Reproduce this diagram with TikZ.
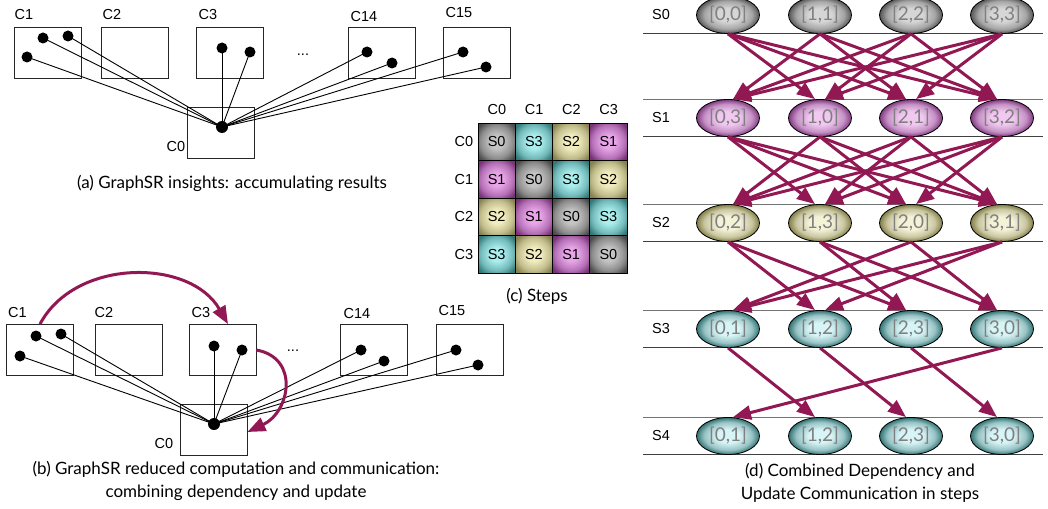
\documentclass[tikz,border=0pt]{standalone}
\usepackage{fontspec}
\setmainfont{Liberation Sans}
\newfontfamily\capfont{Lato}
\usetikzlibrary{arrows.meta,shapes.geometric}
\definecolor{arrowc}{RGB}{145,24,82}
\definecolor{ein0}{RGB}{214,214,214}\definecolor{eout0}{RGB}{85,85,85}
\definecolor{ein1}{RGB}{240,200,240}\definecolor{eout1}{RGB}{128,58,128}
\definecolor{ein2}{RGB}{244,242,215}\definecolor{eout2}{RGB}{130,126,72}
\definecolor{ein3}{RGB}{215,244,246}\definecolor{eout3}{RGB}{50,115,115}
\definecolor{gin0}{RGB}{196,196,196}\definecolor{gout0}{RGB}{75,75,75}
\definecolor{gin1}{RGB}{232,165,232}\definecolor{gout1}{RGB}{120,50,120}
\definecolor{gin2}{RGB}{242,237,190}\definecolor{gout2}{RGB}{135,130,80}
\definecolor{gin3}{RGB}{170,238,238}\definecolor{gout3}{RGB}{50,122,122}
\newcommand\mkshades[1]{%
 \pgfdeclareradialshading{eshade#1}{\pgfpoint{0bp}{0bp}}{color(0bp)=(ein#1); color(9bp)=(ein#1); color(19bp)=(ein#1!62!eout#1); color(25bp)=(eout#1); color(50bp)=(eout#1)}%
 \pgfdeclareradialshading{gshade#1}{\pgfpoint{0bp}{0bp}}{color(0bp)=(gin#1); color(9bp)=(gin#1); color(22bp)=(gin#1!55!gout#1); color(31bp)=(gout#1); color(50bp)=(gout#1)}}
\mkshades{0}\mkshades{1}\mkshades{2}\mkshades{3}
\tikzset{
  cbox/.style={draw=black!85, line width=0.8pt, minimum width=67pt, minimum height=51pt, inner sep=0pt},
  dot/.style={circle, fill=black, inner sep=0pt, minimum size=11pt},
  lbl/.style={font=\fontsize{14.5}{16}\selectfont, inner sep=0pt},
  link/.style={line width=0.9pt},
  capt/.style={font=\capfont\fontsize{17}{23}\selectfont, inner sep=0pt, align=center},
  bigarrow/.style={draw=arrowc, line width=3pt, -{Triangle[length=18pt,width=14pt]}},
  stepell/.style={ellipse, draw=black, line width=0.8pt, minimum width=63pt, minimum height=37pt, inner sep=0pt, font=\capfont\fontsize{19}{21}\selectfont, text=black!50},
  cell/.style={draw=black, line width=0.8pt, minimum width=37.25pt, minimum height=37.5pt, inner sep=0pt, font=\fontsize{14.5}{16}\selectfont},
  rowline/.style={line width=0.8pt, draw=black!75}
}
\begin{document}
\begin{tikzpicture}[x=1pt,y=-1pt]
\useasboundingbox (0,0) rectangle (1048,508);

% ---------- panel (a)
\node[cbox] (a1) at (47.5,52.5) {};
\node[cbox] (a2) at (135,52.5) {};
\node[cbox] (a3) at (230,52.5) {};
\node[cbox] (a14) at (381.5,52.5) {};
\node[cbox] (a15) at (477,52.5) {};
\node[cbox] (a0) at (221,132.5) {};
\node[lbl] (la1) at (24,15) {C1};
\node[lbl] (la2) at (112,15) {C2};
\node[lbl] (la3) at (208,15) {C3};
\node[lbl] (la14) at (364,17) {C14};
\node[lbl] (la15) at (459,13) {C15};
\node[lbl] (la0) at (176,147) {C0};
\node[lbl] (adots) at (303,55) {...};
\node[dot] (ap1) at (27,57) {};
\node[dot] (ap2) at (43,38) {};
\node[dot] (ap3) at (68,36) {};
\node[dot] (ap4) at (222,48) {};
\node[dot] (ap5) at (250,52) {};
\node[dot] (ap6) at (367,52) {};
\node[dot] (ap7) at (392,63) {};
\node[dot] (ap8) at (463,52) {};
\node[dot] (ap9) at (486,67) {};
\node[dot, minimum size=12pt] (ahub) at (222,127) {};
\foreach \p in {ap1,ap2,ap3,ap4,ap5,ap6,ap7,ap8,ap9}
  \draw[link] (\p.center) -- (ahub.center);
\node[capt] (capa) at (232,183) {(a) GraphSR insights: accumulating results};

% ---------- panel (b)
\node[cbox] (b1) at (40,350) {};
\node[cbox] (b2) at (128.5,350) {};
\node[cbox] (b3) at (222.5,350) {};
\node[cbox] (b14) at (374,350) {};
\node[cbox] (b15) at (470,350) {};
\node[cbox] (b0) at (213.5,430) {};
\node[lbl] (lb1) at (17.5,313) {C1};
\node[lbl] (lb2) at (104,313) {C2};
\node[lbl] (lb3) at (201,313) {C3};
\node[lbl] (lb14) at (357,314) {C14};
\node[lbl] (lb15) at (452,311) {C15};
\node[lbl] (lb0) at (164,444) {C0};
\node[lbl] (bdots) at (293,351) {...};
\node[dot] (bp1) at (20,356) {};
\node[dot] (bp2) at (36,336) {};
\node[dot] (bp3) at (61,334) {};
\node[dot] (bp4) at (214,346) {};
\node[dot] (bp5) at (242,350) {};
\node[dot] (bp6) at (361,350) {};
\node[dot] (bp7) at (384,361) {};
\node[dot] (bp8) at (456,350) {};
\node[dot] (bp9) at (478,365) {};
\node[dot, minimum size=12pt] (bhub) at (214,424) {};
\foreach \p in {bp1,bp2,bp3,bp4,bp5,bp6,bp7,bp8,bp9}
  \draw[link] (\p.center) -- (bhub.center);
\draw[bigarrow] (b1.north) .. controls (75,258) and (190,258) .. ([xshift=5.5pt]b3.north);
\draw[bigarrow] (b3.east) .. controls (300,358) and (290,412) .. ([yshift=-2pt]b0.east);
\node[capt] (capb) at (236,480.5) {(b) GraphSR reduced computation and communication:\\combining dependency and update};

% ---------- panel (c)
\foreach \j in {0,...,3} {
  \node[lbl] (colc\j) at (497+37.25*\j,110) {C\j};
  \node[lbl] (rowc\j) at (464,142+37.5*\j) {C\j};
}
\foreach \i in {0,...,3} {
  \foreach \j in {0,...,3} {
    \pgfmathtruncatemacro\s{mod(\i-\j+4,4)}
    \node[cell, shade, shading=gshade\s] (cell\i\j) at (496.625+37.25*\j,141.75+37.5*\i) {S\s};
  }
}
\node[capt] (capc) at (537,296) {(c) Steps};

% ---------- panel (d)
\foreach \r/\y in {0/15,1/118,2/223,3/329,4/436} {
  \draw[rowline] (643,\y+18.5) -- (1043,\y+18.5);
  \ifnum\r>0 \draw[rowline, draw=black!55] (643,\y-18.5) -- (1043,\y-18.5); \fi
  \node[lbl] (sl\r) at (661,\y) {S\r};
  \pgfmathtruncatemacro\ci{min(\r,3)}
  \foreach \i/\x in {0/728,1/820,2/911,3/1002} {
    \pgfmathtruncatemacro\jj{mod(\i-\ci+8,4)}
    \node[stepell, shade, shading=eshade\ci] (e\r\i) at (\x,\y) {[\i,\jj]};
  }
}
\foreach \r/\n/\ks in {0/1/{1,2,3},1/2/{1,2,3},2/3/{1,2},3/4/{1}} {
  \foreach \i in {0,...,3} {
    \foreach \k in \ks {
      \pgfmathtruncatemacro\j{mod(\i+\k,4)}
      \pgfmathsetmacro\off{\j>\i ? -5 : 5}
      \draw[bigarrow] (e\r\i.south) -- ([xshift=\off pt]e\n\j.north);
    }
  }
}
\node[capt] (capd) at (860,482.5) {(d) Combined Dependency and\\Update Communication in steps};
\end{tikzpicture}
\end{document}
